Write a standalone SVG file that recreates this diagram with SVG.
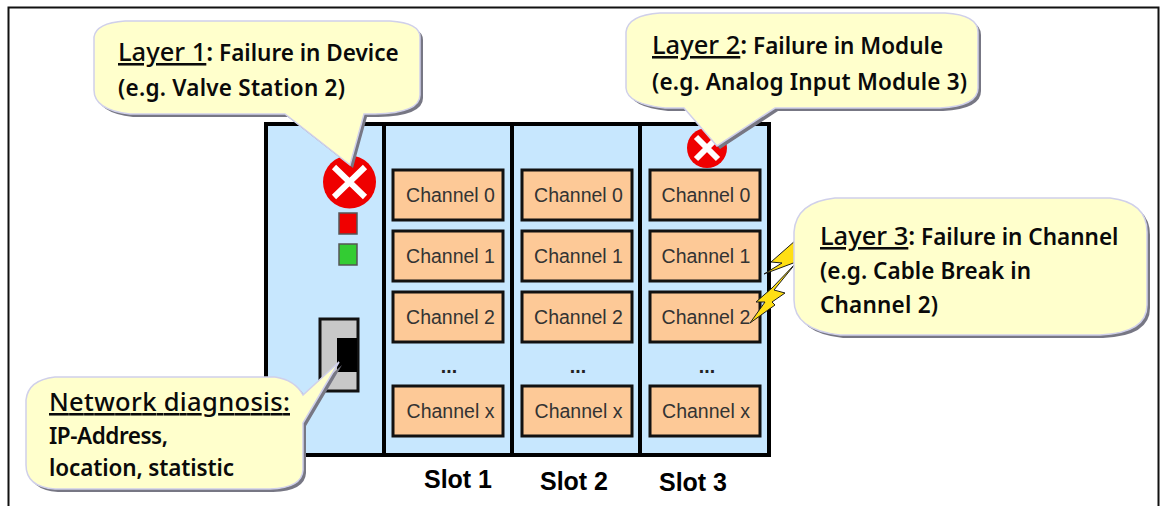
<svg xmlns="http://www.w3.org/2000/svg" width="1166" height="506" viewBox="0 0 1166 506">
<defs>
<filter id="sh" x="-5%" y="-5%" width="112%" height="115%"><feGaussianBlur stdDeviation="0.7"/></filter>
</defs>
<style>
text{font-family:"Noto Sans","Open Sans","DejaVu Sans",sans-serif;fill:#0a0a0a}
.c{font-size:22.5px;font-weight:600}
.k{font-size:25px;font-weight:600}
.u{font-size:25.5px;font-weight:500;text-decoration:underline}
.ch{font-family:"Liberation Sans",Arial,sans-serif;font-size:19.5px;fill:#333;text-anchor:middle}
.dots{font-family:"Liberation Sans",Arial,sans-serif;font-size:19.5px;font-weight:700;fill:#222;text-anchor:middle}
.s{font-family:"Liberation Sans",Arial,sans-serif;font-size:25px;font-weight:700;text-anchor:middle;fill:#000}
.chb{fill:#fdc997;stroke:#111;stroke-width:3}
.mod{fill:#c7e7fe;stroke:#000;stroke-width:4}
.co{fill:#ffffcc;stroke:#d0d0ea;stroke-width:1.5}
.cs{fill:#777784;filter:url(#sh)}
.x{stroke:#fff;stroke-width:6;fill:none}
.bolt{fill:#ffdf14;stroke:#1c1c1c;stroke-width:1}
</style>
<rect x="8.5" y="7.5" width="1150" height="510" fill="#fff" stroke="#111" stroke-width="2"/>
<g id="rack">
<rect class="mod" x="266" y="124" width="118" height="331"/>
<rect class="mod" x="384" y="124" width="128" height="331"/>
<rect class="mod" x="512" y="124" width="128" height="331"/>
<rect class="mod" x="640" y="124" width="129" height="331"/>
</g>
<g id="device-status">
<circle cx="349.500" cy="182" r="26.500" fill="#ef0000"/>
<path class="x" d="M334 167L365 197M365 167L334 197"/>
<rect x="339" y="213" width="18" height="21" fill="#f00000" stroke="#555" stroke-width="1.500"/>
<rect x="339" y="244" width="18" height="21" fill="#33cc33" stroke="#555" stroke-width="1.500"/>
</g>
<g id="port">
<rect x="320" y="319" width="38" height="72" fill="#c8c8c8" stroke="#111" stroke-width="3"/>
<rect x="337" y="338" width="20" height="34" fill="#000"/>
</g>
<g id="slot1">
<rect class="chb" x="393" y="170" width="110" height="50"/><text class="ch" x="450.500" y="202">Channel 0</text>
<rect class="chb" x="393" y="231" width="110" height="50"/><text class="ch" x="450.500" y="263">Channel 1</text>
<rect class="chb" x="393" y="292" width="110" height="50"/><text class="ch" x="450.500" y="324">Channel 2</text>
<text class="dots" x="449" y="373">...</text>
<rect class="chb" x="393" y="386" width="110" height="50"/><text class="ch" x="450.500" y="418">Channel x</text>
</g>
<g id="slot2">
<rect class="chb" x="522" y="170" width="110" height="50"/><text class="ch" x="578.500" y="202">Channel 0</text>
<rect class="chb" x="522" y="231" width="110" height="50"/><text class="ch" x="578.500" y="263">Channel 1</text>
<rect class="chb" x="522" y="292" width="110" height="50"/><text class="ch" x="578.500" y="324">Channel 2</text>
<text class="dots" x="578" y="373">...</text>
<rect class="chb" x="522" y="386" width="110" height="50"/><text class="ch" x="578.500" y="418">Channel x</text>
</g>
<g id="slot3">
<rect class="chb" x="650" y="170" width="110" height="50"/><text class="ch" x="706" y="202">Channel 0</text>
<rect class="chb" x="650" y="231" width="110" height="50"/><text class="ch" x="706" y="263">Channel 1</text>
<rect class="chb" x="650" y="292" width="110" height="50"/><text class="ch" x="706" y="324">Channel 2</text>
<text class="dots" x="707" y="373">...</text>
<rect class="chb" x="650" y="386" width="110" height="50"/><text class="ch" x="706" y="418">Channel x</text>
</g>
<g id="slot3-status">
<circle cx="707" cy="148" r="20" fill="#ef0000"/>
<path class="x" d="M696 137L718 159M718 137L696 159"/>
</g>
<g id="slot-labels">
<text class="s" x="458" y="488">Slot 1</text>
<text class="s" x="574" y="490">Slot 2</text>
<text class="s" x="693" y="491">Slot 3</text>
</g>
<g id="connectors">
<path class="bolt" d="M796 240L771 262L782 263L764 274L796 262Z"/>
<path class="bolt" d="M796 263L774 290L785 293L772 302L775 305L750 323L765 302L756 302L772 288Z"/>
</g>
<g id="callout-layer1">
<path class="cs" transform="translate(3,3)" d="M125 21H390Q420 23 420 37V95Q420 113 375 114H364L350 165L285 114H130Q94 110 94 90V37Q96 23 125 21Z"/>
<path class="co" d="M125 21H390Q420 23 420 37V95Q420 113 375 114H364L350 165L285 114H130Q94 110 94 90V37Q96 23 125 21Z"/>
<text x="118" y="61"><tspan class="u">Layer 1</tspan><tspan class="k">:</tspan><tspan class="c"> Failure in Device</tspan></text>
<text class="c" x="118" y="96" textLength="227">(e.g. Valve Station 2)</text>
</g>
<g id="callout-layer2">
<path class="cs" transform="translate(3,3)" d="M660 13H945Q978 15 978 32V88Q978 106 940 108H775L717 146L684 108H665Q627 104 626 88V32Q628 15 660 13Z"/>
<path class="co" d="M660 13H945Q978 15 978 32V88Q978 106 940 108H775L717 146L684 108H665Q627 104 626 88V32Q628 15 660 13Z"/>
<text x="652" y="54"><tspan class="u">Layer 2</tspan><tspan class="k">:</tspan><tspan class="c"> Failure in Module</tspan></text>
<text class="c" x="652" y="90" textLength="315">(e.g. Analog Input Module 3)</text>
</g>
<g id="callout-layer3">
<path class="cs" transform="translate(3,3)" d="M835 198H1110Q1147 202 1147 232V305Q1147 333 1100 335H840Q794 330 794 300V232Q796 202 835 198Z"/>
<path class="co" d="M835 198H1110Q1147 202 1147 232V305Q1147 333 1100 335H840Q794 330 794 300V232Q796 202 835 198Z"/>
<text x="820" y="245"><tspan class="u">Layer 3</tspan><tspan class="k">:</tspan><tspan class="c"> Failure in Channel</tspan></text>
<text class="c" x="820" y="279" textLength="211">(e.g. Cable Break in</text>
<text class="c" x="820" y="313" textLength="118">Channel 2)</text>
</g>
<g id="callout-network">
<path class="cs" transform="translate(3,3)" d="M55 377H275Q295 380 303 395L339 362L303 423V470Q302 488 270 489H55Q26 487 26 465V400Q28 380 55 377Z"/>
<path class="co" d="M55 377H275Q295 380 303 395L339 362L303 423V470Q302 488 270 489H55Q26 487 26 465V400Q28 380 55 377Z"/>
<text x="49" y="411"><tspan class="u" textLength="241">Network diagnosis:</tspan></text>
<text class="c" x="49" y="444" textLength="119">IP-Address,</text>
<text class="c" x="49" y="476" textLength="185">location, statistic</text>
</g>
</svg>
